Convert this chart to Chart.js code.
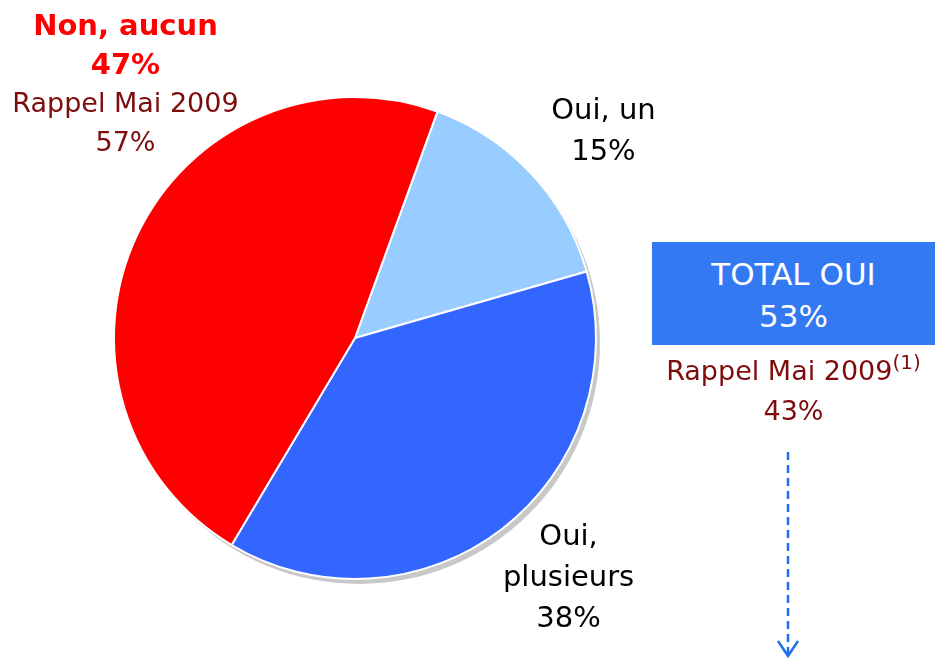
<!DOCTYPE html>
<html>
<head>
<meta charset="utf-8">
<script src="https://cdn.jsdelivr.net/npm/chart.js@4/dist/chart.umd.min.js"></script>
<style>
  html, body { margin:0; padding:0; background:#fff; }
  #wrap { position:relative; width:935px; height:659px; overflow:hidden; font-family:"DejaVu Sans", sans-serif; }
  #pie { position:absolute; left:0; top:0; }
  .total-box { position:absolute; left:652px; top:242px; width:283px; height:103px; background:#337af2; color:#fff;
    text-align:center; font-size:31px; line-height:42px; box-sizing:border-box; padding-top:11px; }
  .rappel { position:absolute; left:652px; top:352px; width:283px; text-align:center; color:#7d0d0d;
    font-size:27px; line-height:38px; }
  .rappel sup { font-size:20px; vertical-align:0; position:relative; top:-11px; }
  #arrow { position:absolute; left:0; top:0; }
</style>
</head>
<body>
<div id="wrap">
  <canvas id="pie" width="935" height="659"></canvas>
  <div class="total-box"><div>TOTAL OUI</div><div id="totalOui"></div></div>
  <div class="rappel"><div>Rappel Mai 2009<sup>(1)</sup></div><div id="rappelOui"></div></div>
  <svg id="arrow" width="935" height="659">
    <line x1="788" y1="452" x2="788" y2="654" stroke="#1f6ff0" stroke-width="2.5" stroke-dasharray="8,5"/>
    <polyline points="778,641 788,656 798,641" fill="none" stroke="#1f6ff0" stroke-width="2.5"/>
  </svg>
</div>
<script>
const categories = ['Oui, un', 'Oui, plusieurs', 'Non, aucun'];
const labelLines = [['Oui, un'], ['Oui,', 'plusieurs'], ['Non, aucun']];
const values = [15, 38, 47];
const recallMay2009 = [null, null, 57];
const recallTotalOui = 43;
const sliceColors = ['#99ccff', '#3366ff', '#ff0000'];

// total oui = sum of the two "oui" slices
document.getElementById('totalOui').textContent = (values[0] + values[1]) + '%';
document.getElementById('rappelOui').textContent = recallTotalOui + '%';

// label look per slice (nudge = px shift from the default anchor)
const labelStyle = [
  { main:'#000', mainFont:'29px "DejaVu Sans"', lh:41, nudge:[14, 10] },
  { main:'#000', mainFont:'29px "DejaVu Sans"', lh:41, nudge:[18, -17] },
  { main:'#ff0000', mainFont:'bold 29px "DejaVu Sans"', lh:39, nudge:[60, -118] }
];

const shadowPlugin = {
  id:'shadow',
  beforeDatasetsDraw(chart) {
    const arc = chart.getDatasetMeta(0).data[0];
    if (!arc) return;
    const ctx = chart.ctx;
    ctx.save();
    ctx.fillStyle = '#c8c8c8';
    ctx.beginPath();
    ctx.arc(arc.x + 4, arc.y + 5, arc.outerRadius, 0, Math.PI * 2);
    ctx.fill();
    ctx.restore();
  }
};

const labelPlugin = {
  id:'sliceLabels',
  afterDatasetsDraw(chart) {
    const ctx = chart.ctx;
    chart.getDatasetMeta(0).data.forEach((arc, i) => {
      const st = labelStyle[i];
      const mid = (arc.startAngle + arc.endAngle) / 2;
      const d = arc.outerRadius * 1.33;
      const cx = arc.x + Math.cos(mid) * d + st.nudge[0];
      const cy = arc.y + Math.sin(mid) * d + st.nudge[1];
      const lines = labelLines[i].map(t => ({ t, color:st.main, font:st.mainFont }));
      lines.push({ t:values[i] + '%', color:st.main, font:st.mainFont });
      if (recallMay2009[i] != null) {
        lines.push({ t:'Rappel Mai 2009', color:'#7d0d0d', font:'27px "DejaVu Sans"' });
        lines.push({ t:recallMay2009[i] + '%', color:'#7d0d0d', font:'27px "DejaVu Sans"' });
      }
      ctx.save();
      ctx.textAlign = 'center';
      ctx.textBaseline = 'alphabetic';
      lines.forEach((ln, k) => {
        const y = cy + (k - (lines.length - 1) / 2) * st.lh;
        ctx.font = ln.font;
        ctx.fillStyle = ln.color;
        const size = parseFloat(ln.font.match(/(\d+)px/)[1]);
        ctx.fillText(ln.t, cx, y + size * 0.365);
      });
      ctx.restore();
    });
  }
};

new Chart(document.getElementById('pie'), {
  type:'pie',
  data:{
    labels:categories,
    datasets:[{
      data:values,
      backgroundColor:sliceColors,
      borderColor:'#ffffff',
      borderWidth:2,
      radius:241
    }]
  },
  options:{
    responsive:false,
    animation:false,
    rotation:20,
    layout:{ padding:{ left:0, right:225, top:17, bottom:0 } },
    plugins:{ legend:{ display:false }, tooltip:{ enabled:false } }
  },
  plugins:[shadowPlugin, labelPlugin]
});
</script>
</body>
</html>
